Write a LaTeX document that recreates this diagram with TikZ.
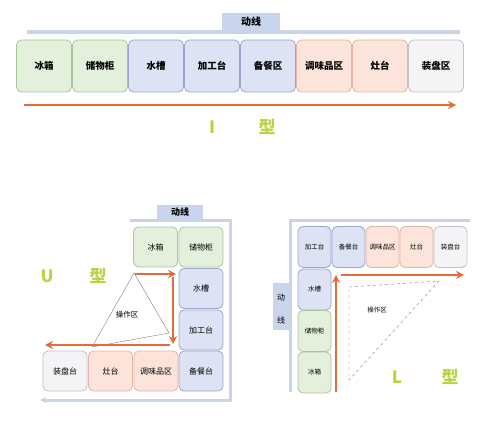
\documentclass[tikz,border=0pt]{standalone}
\usepackage{fontspec}
\setmainfont{Noto Sans CJK SC}
\usetikzlibrary{arrows.meta}

\definecolor{gfill}{HTML}{E5F0DC}
\definecolor{gline}{HTML}{A7C69C}
\definecolor{bfill}{HTML}{DDE3F5}
\definecolor{bline}{HTML}{9AA7CB}
\definecolor{ofill}{HTML}{FCE4DA}
\definecolor{oline}{HTML}{E2B4A2}
\definecolor{wfill}{HTML}{F4F4F6}
\definecolor{wline}{HTML}{C2C2CA}
\definecolor{tagfill}{HTML}{C8D5EC}
\definecolor{track}{HTML}{C9D4E6}
\definecolor{flow}{HTML}{E46C3C}
\definecolor{typegreen}{HTML}{B6D443}

\begin{document}
\begin{tikzpicture}[x=1pt, y=-1pt,
    zone/.style={draw=#1line, fill=#1fill, rounded corners=5pt, line width=0.8pt, inner sep=0pt},
    tag/.style={fill=tagfill, inner sep=0pt},
    trackline/.style={track, line width=3pt},
    flowarrow/.style={flow, line width=1.6pt, -{Stealth[length=8pt, width=8pt]}},
    worktri/.style={gray, line width=0.4pt},
    typename/.style={typegreen, font=\fontsize{17}{17}\selectfont\bfseries}]
    \useasboundingbox (0,0) rectangle (500,425);

    % I 型
    \draw[trackline, line width=4pt] (27,32) -- (460,32);
    \node[tag, minimum width=58, minimum height=18, font=\fontsize{10}{10}\selectfont\bfseries] (itag) at (251,22) {动线};
    \foreach \name/\c [count=\i from 0] in {冰箱/g,储物柜/g,水槽/b,加工台/b,备餐区/b,调味品区/o,灶台/o,装盘区/w}
        \node[zone=\c, minimum width=55, minimum height=52, font=\fontsize{9.5}{10}\selectfont\bfseries] (i\i) at (44+56*\i, 66) {\name};
    \coordinate (ia) at (24,105);
    \coordinate (ib) at (456,105);
    \draw[flowarrow] (ia) -- (ib);
    \node[typename] (iI) at (212,127) {I};
    \node[typename] (ixing) at (267,127) {型};

    % U 型
    \draw[trackline, -{Stealth[length=6pt, width=6pt]}] (130,220) -- (230,220) -- (230,400) -- (40,400);
    \node[tag, minimum width=46, minimum height=14, font=\fontsize{9}{9}\selectfont\bfseries] (utag) at (180,212) {动线};
    \node[zone=g, minimum width=44, minimum height=40, font=\fontsize{8}{8}\selectfont] (u1) at (155.5,247) {冰箱};
    \foreach \name/\c/\y [count=\i from 2] in {储物柜/g/247,水槽/b/288.5,加工台/b/330,备餐台/b/371}
        \node[zone=\c, minimum width=44, minimum height=40, font=\fontsize{8}{8}\selectfont] (u\i) at (201,\y) {\name};
    \foreach \name/\c/\x [count=\i from 6] in {调味品区/o/156,灶台/o/110.5,装盘台/w/65}
        \node[zone=\c, minimum width=44, minimum height=40, font=\fontsize{8}{8}\selectfont] (u\i) at (\x,371) {\name};
    \draw[worktri] (134,273) -- (169,333) -- (92,347) -- cycle;
    \node[font=\fontsize{7.5}{8}\selectfont] (uop) at (127,315) {操作区};
    \coordinate (ua) at (135,274);
    \coordinate (ub) at (176,274);
    \coordinate (uc) at (173,277);
    \coordinate (ud) at (173,344);
    \coordinate (ue) at (170,345);
    \coordinate (uf) at (45,345);
    \draw[flowarrow] (ua) -- (ub);
    \draw[flowarrow] (uc) -- (ud);
    \draw[flowarrow] (ue) -- (uf);
    \node[typename] (uU) at (47,276) {U};
    \node[typename] (uxing) at (98,276) {型};

    % L 型
    \draw[trackline] (470,220) -- (290,220) -- (290,392);
    \node[tag, minimum width=16, minimum height=47] (ltag) at (281,306.5) {};
    \node[font=\fontsize{8}{8}\selectfont] at (281,298) {动};
    \node[font=\fontsize{8}{8}\selectfont] at (281,320) {线};
    \foreach \name/\c [count=\i from 0] in {加工台/b,备餐台/b,调味品区/o,灶台/o,装盘台/w}
        \node[zone=\c, minimum width=33, minimum height=41, font=\fontsize{6.5}{7}\selectfont] (l\i) at (314.5+34*\i,247) {\name};
    \foreach \name/\c [count=\i from 5] in {水槽/b,储物柜/g,冰箱/g}
        \node[zone=\c, minimum width=33, minimum height=41, font=\fontsize{6.5}{7}\selectfont] (l\i) at (314.5,289.5+41.5*\i-207.5) {\name};
    \draw[worktri, dashed] (349,287) -- (439,281) -- (349,380) -- cycle;
    \node[font=\fontsize{6.5}{7}\selectfont] (lop) at (377,310) {操作区};
    \coordinate (la) at (336,392);
    \coordinate (lb) at (336,275);
    \coordinate (lc) at (341,275);
    \coordinate (ld) at (464,275);
    \draw[flowarrow] (la) -- (lb);
    \draw[flowarrow] (lc) -- (ld);
    \node[typename] (lL) at (397,377) {L};
    \node[typename] (lxing) at (450,377) {型};
\end{tikzpicture}
\end{document}
